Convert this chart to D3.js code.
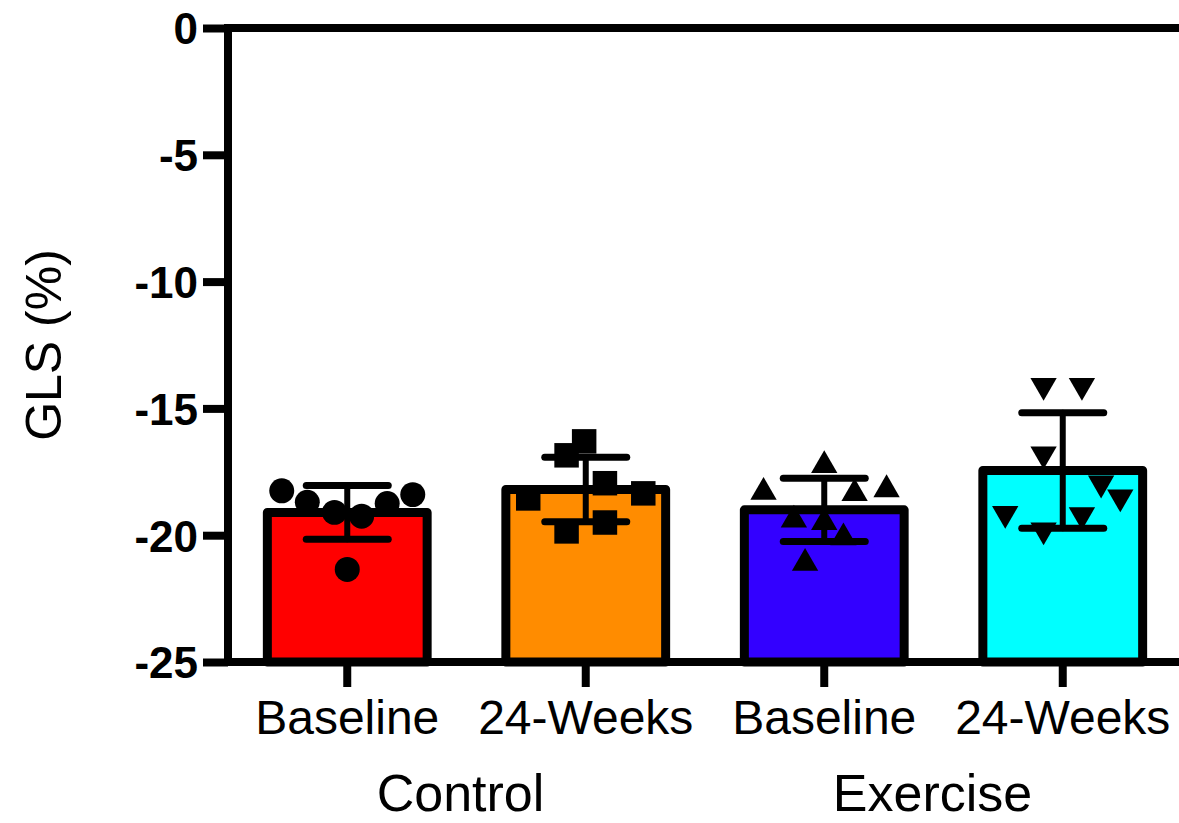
<!DOCTYPE html>
<html>
<head>
<meta charset="utf-8">
<script src="https://cdn.jsdelivr.net/npm/d3@7"></script>
<style>
  html, body { margin: 0; padding: 0; background: #fff; }
  svg { display: block; }
  text { font-family: "Liberation Sans", Arial, sans-serif; fill: #000; }
</style>
</head>
<body>
<svg id="chart" width="1179" height="823"></svg>
<script>
// ---- data ----
const categories = ["Baseline", "24-Weeks", "Baseline", "24-Weeks"];
const groups = ["Control", "Exercise"];
const means = [-19.1, -18.2, -19.0, -17.45];
const sds = [1.06, 1.27, 1.25, 2.28];
const ctrlBaseline = [-18.25, -18.7, -19.1, -19.25, -18.75, -18.4, -21.35];
const ctrl24 = [-16.3, -16.85, -17.95, -18.35, -18.55, -19.5, -19.85];
const exBaseline = [-17.25, -18.3, -18.35, -18.2, -19.4, -19.5, -20.1, -21.1];
const ex24 = [-14.1, -14.1, -16.8, -17.95, -18.5, -19.15, -19.2, -19.8];
const yTicks = [0, -5, -10, -15, -20, -25];
const yLabel = "GLS (%)";
// horizontal scatter spread of each point (fraction of bar width)
const spreadCB = [-0.41, -0.25, -0.08, 0.09, 0.25, 0.41, 0];
const spreadC24 = [-0.01, -0.12, 0.12, 0.36, -0.36, 0.12, -0.12];
const spreadEB = [0, -0.38, 0.19, 0.39, -0.19, 0, 0.12, -0.12];
const spreadE24 = [-0.12, 0.12, -0.12, 0.24, 0.36, -0.36, 0.12, -0.12];

const barColors = ["#ff0000", "#ff8c00", "#3300ff", "#00ffff"];
const symbols = [d3.symbolCircle, d3.symbolSquare, d3.symbolTriangle, "down"];

const points = [ctrlBaseline, ctrl24, exBaseline, ex24];
const spreads = [spreadCB, spreadC24, spreadEB, spreadE24];

// ---- layout ----
const svg = d3.select("#chart");
const mLeft = 228, mRight = 1182, mTop = 28, mBottom = 662;
const ids = categories.map((c, i) => i);

const x = d3.scaleBand().domain(ids).range([mLeft, mRight]).paddingInner(0.33).paddingOuter(0.165);
const y = d3.scaleLinear().domain([0, -25]).range([mTop, mBottom]);

// bars
svg.append("g").selectAll("rect").data(ids).join("rect")
  .attr("x", i => x(i))
  .attr("y", i => y(means[i]))
  .attr("width", x.bandwidth())
  .attr("height", i => y(-25) - y(means[i]))
  .attr("fill", i => barColors[i])
  .attr("stroke", "#000")
  .attr("stroke-width", 9)
  .attr("stroke-linejoin", "round");

// points
const pg = svg.append("g");
points.forEach((arr, i) => {
  const cx = x(i) + x.bandwidth() / 2;
  arr.forEach((v, j) => {
    const px = cx + spreads[i][j] * x.bandwidth();
    const py = y(v);
    if (symbols[i] === "down") {
      pg.append("path").attr("d", d3.symbol().type(d3.symbolTriangle).size(300)())
        .attr("transform", `translate(${px},${py}) rotate(180)`).attr("fill", "#000");
    } else {
      const size = symbols[i] === d3.symbolCircle ? 490 : (symbols[i] === d3.symbolSquare ? 600 : 300);
      pg.append("path").attr("d", d3.symbol().type(symbols[i]).size(size)())
        .attr("transform", `translate(${px},${py})`).attr("fill", "#000");
    }
  });
});

// error bars
const eg = svg.append("g").attr("stroke", "#000").attr("stroke-linecap", "round");
ids.forEach(i => {
  const cx = x(i) + x.bandwidth() / 2;
  const hi = means[i] + sds[i], lo = means[i] - sds[i];
  eg.append("line").attr("x1", cx).attr("x2", cx).attr("y1", y(hi)).attr("y2", y(lo)).attr("stroke-width", 6);
  [hi, lo].forEach(v => {
    eg.append("line").attr("x1", cx - 41).attr("x2", cx + 41).attr("y1", y(v)).attr("y2", y(v)).attr("stroke-width", 7);
  });
});

// axes
const yAxis = d3.axisLeft(y).tickValues(yTicks).tickSize(25).tickPadding(5).tickFormat(d => String(d));
const yg = svg.append("g").attr("transform", `translate(${mLeft},0)`).call(yAxis);
yg.select(".domain").attr("stroke", "#000").attr("stroke-width", 8).attr("d", `M0,${mTop - 4}V${mBottom + 4}`);
yg.selectAll(".tick line").attr("stroke", "#000").attr("stroke-width", 8);
yg.selectAll(".tick text").attr("font-size", 44).attr("font-weight", "bold")
  .attr("font-family", "Liberation Sans, Arial, sans-serif").attr("dy", "0.36em");

// top line at 0
svg.append("line").attr("x1", mLeft).attr("x2", 1179).attr("y1", y(0)).attr("y2", y(0))
  .attr("stroke", "#000").attr("stroke-width", 8);

const xAxis = d3.axisBottom(x).tickSize(25).tickPadding(13).tickFormat(i => categories[i]);
const xg = svg.append("g").attr("transform", `translate(0,${mBottom})`).call(xAxis);
xg.select(".domain").attr("stroke", "#000").attr("stroke-width", 8).attr("d", `M${mLeft},0H1179`);
xg.selectAll(".tick line").attr("stroke", "#000").attr("stroke-width", 8);
xg.selectAll(".tick text").attr("font-size", 48).attr("font-family", "Liberation Sans, Arial, sans-serif");

// group labels
groups.forEach((g, k) => {
  const c = (x(2 * k) + x(2 * k + 1) + x.bandwidth()) / 2 - 6 - 5 * k;
  svg.append("text").attr("x", c).attr("y", 811).attr("text-anchor", "middle")
    .attr("font-size", 52).text(g);
});

// y label
svg.append("text").attr("transform", `translate(61,345) rotate(-90)`)
  .attr("text-anchor", "middle").attr("font-size", 50).text(yLabel);
</script>
</body>
</html>
